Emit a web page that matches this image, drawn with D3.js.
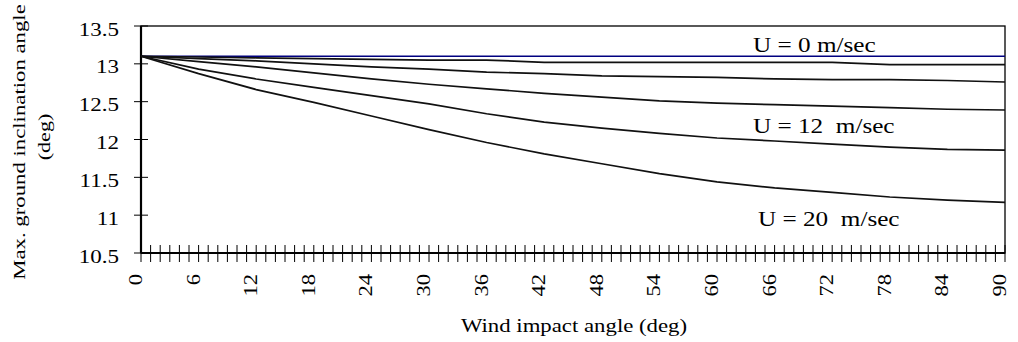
<!DOCTYPE html>
<html>
<head>
<meta charset="utf-8">
<script src="https://cdn.jsdelivr.net/npm/d3@7"></script>
<style>
  body { margin: 0; background: #fff; }
  text { font-family: "Liberation Serif", "Times New Roman", serif; fill: #000; }
</style>
</head>
<body>
<svg id="chart" width="1018" height="342"></svg>
<script>
const width = 1018;
const height = 342;

// wind impact angle (deg) where values were read
const angles = [0, 6, 12, 18, 24, 30, 36, 42, 48, 54, 60, 66, 72, 78, 84, 90];

// max. ground inclination angle (deg), one array per wind speed
const u0 = [13.1, 13.1, 13.1, 13.1, 13.1, 13.1, 13.1, 13.1, 13.1, 13.1, 13.1, 13.1, 13.1, 13.1, 13.1, 13.1];
const u4 = [13.1, 13.09, 13.08, 13.07, 13.06, 13.05, 13.05, 13.02, 13.02, 13.02, 13.02, 13.02, 13.02, 12.99, 12.99, 12.99];
const u8 = [13.1, 13.07, 13.04, 13.0, 12.96, 12.93, 12.89, 12.87, 12.84, 12.83, 12.82, 12.8, 12.79, 12.79, 12.78, 12.76];
const u12 = [13.1, 13.03, 12.96, 12.88, 12.8, 12.73, 12.67, 12.61, 12.56, 12.51, 12.48, 12.46, 12.44, 12.42, 12.4, 12.39];
const u16 = [13.1, 12.93, 12.8, 12.69, 12.58, 12.47, 12.34, 12.23, 12.15, 12.08, 12.02, 11.98, 11.94, 11.9, 11.87, 11.86];
const u20 = [13.1, 12.87, 12.66, 12.49, 12.31, 12.13, 11.96, 11.81, 11.68, 11.55, 11.44, 11.36, 11.3, 11.24, 11.2, 11.17];

const yTicks = [10.5, 11, 11.5, 12, 12.5, 13, 13.5];
const xLabels = d3.range(0, 91, 6);
const xMinor = d3.range(0, 91, 1);

const labels = [
  { text: "U = 0 m/sec", at: 13.15 },
  { text: "U = 12  m/sec", at: 12.085 },
  { text: "U = 20  m/sec", at: 10.86 },
];

const series = [
  { values: u0, color: "#000080" },
  { values: u4, color: "#111" },
  { values: u8, color: "#111" },
  { values: u12, color: "#111" },
  { values: u16, color: "#111" },
  { values: u20, color: "#111" },
];

const margin = { left: 141, right: 13, top: 26, bottom: 89 };
const x = d3.scaleLinear().domain([0, 90]).range([margin.left, width - margin.right]);
const y = d3.scaleLinear().domain([10.5, 13.5]).range([height - margin.bottom, margin.top]);

const svg = d3.select("#chart");

// plot frame
svg
  .append("rect")
  .attr("x", x(0))
  .attr("y", y(13.5))
  .attr("width", x(90) - x(0))
  .attr("height", y(10.5) - y(13.5))
  .attr("fill", "none")
  .attr("stroke", "#000")
  .attr("stroke-width", 1.3);

// y axis: ticks cross the line
const yAxis = svg.append("g").attr("transform", `translate(${x(0)},0)`);
yAxis
  .selectAll("line")
  .data(yTicks)
  .enter()
  .append("line")
  .attr("x1", -7)
  .attr("x2", 7)
  .attr("y1", (d) => y(d))
  .attr("y2", (d) => y(d))
  .attr("stroke", "#000");
yAxis
  .selectAll("text")
  .data(yTicks)
  .enter()
  .append("text")
  .attr("transform", (d) => `translate(-22,${y(d) + 9.5}) scale(1.28,1)`)
  .attr("text-anchor", "end")
  .style("font-size", "18px")
  .text((d) => d);
svg
  .append("line")
  .attr("x1", x(0))
  .attr("x2", x(0))
  .attr("y1", y(10.5))
  .attr("y2", y(13.5))
  .attr("stroke", "#000")
  .attr("stroke-width", 2.2);

// x axis
const xAxis = svg.append("g").attr("transform", `translate(0,${y(10.5)})`);
xAxis
  .selectAll("line")
  .data(xMinor)
  .enter()
  .append("line")
  .attr("x1", (d) => x(d))
  .attr("x2", (d) => x(d))
  .attr("y1", -8)
  .attr("y2", 9)
  .attr("stroke", "#000");
xAxis
  .append("line")
  .attr("x1", x(0))
  .attr("x2", x(90))
  .attr("stroke", "#000")
  .attr("stroke-width", 2.2);
xAxis
  .selectAll("text")
  .data(xLabels)
  .enter()
  .append("text")
  .attr("transform", (d) => `translate(${x(d) + 1},21) rotate(-90) scale(1.25,1)`)
  .attr("text-anchor", "end")
  .style("font-size", "18px")
  .text((d) => d);

// curves
const line = d3
  .line()
  .x((d, i) => x(angles[i]))
  .y((d) => y(d));

svg
  .selectAll(".curve")
  .data(series)
  .enter()
  .append("path")
  .attr("class", "curve")
  .attr("d", (d) => line(d.values))
  .attr("fill", "none")
  .attr("stroke", (d) => d.color)
  .attr("stroke-width", 1.7);

// speed labels
svg
  .selectAll(".lbl")
  .data(labels)
  .enter()
  .append("text")
  .attr("class", "lbl")
  .attr("transform", (d, i) => `translate(${i === 2 ? 758 : 753},${y(d.at)}) scale(1.2,1)`)
  .style("font-size", "21px")
  .style("white-space", "pre")
  .text((d) => d.text);

// axis titles
svg
  .append("text")
  .attr("transform", `translate(574,332) scale(1.2,1)`)
  .attr("text-anchor", "middle")
  .style("font-size", "19px")
  .text("Wind impact angle (deg)");

svg
  .append("text")
  .attr("transform", `translate(25,142) rotate(-90) scale(1.34,1)`)
  .attr("text-anchor", "middle")
  .style("font-size", "17px")
  .text("Max. ground inclination angle");

svg
  .append("text")
  .attr("transform", `translate(50,137) rotate(-90) scale(1.3,1)`)
  .attr("text-anchor", "middle")
  .style("font-size", "17px")
  .text("(deg)");
</script>
</body>
</html>
